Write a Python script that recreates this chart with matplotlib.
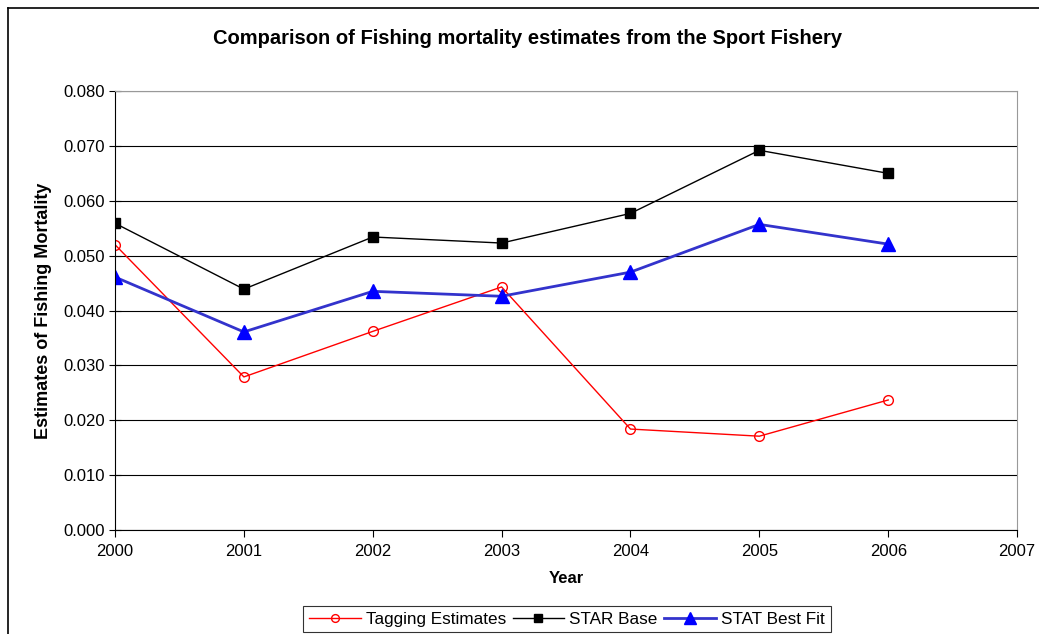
import matplotlib
matplotlib.use("Agg")
import matplotlib.pyplot as plt
from matplotlib.lines import Line2D
from matplotlib.ticker import FormatStrFormatter

plt.rcParams['font.family'] = ['Liberation Sans', 'DejaVu Sans']

# data
years = [2000, 2001, 2002, 2003, 2004, 2005, 2006]
tagging = [0.0520, 0.0279, 0.0362, 0.0443, 0.0184, 0.0171, 0.0237]
star_base = [0.0559, 0.0439, 0.0534, 0.0523, 0.0577, 0.0692, 0.0650]
stat_best = [0.0461, 0.0361, 0.0435, 0.0426, 0.0470, 0.0557, 0.0521]

fig = plt.figure(figsize=(10.39, 6.34), dpi=100)
ax = fig.add_axes([0.1107, 0.164, 0.8682, 0.6924])

ax.plot(years, tagging, color='red', lw=1, marker='o', ms=7,
        mfc='none', mec='red', mew=1, label='Tagging Estimates')
ax.plot(years, star_base, color='black', lw=1, marker='s', ms=7,
        label='STAR Base')
ax.plot(years, stat_best, color='#3333cc', lw=2, marker='^', ms=10,
        mfc='blue', mec='blue', label='STAT Best Fit')

ax.set_xlim(2000, 2007)
ax.set_ylim(0, 0.08)
ax.set_xticks(range(2000, 2008))
ax.set_yticks([i / 100 for i in range(9)])
ax.yaxis.set_major_formatter(FormatStrFormatter('%.3f'))
ax.grid(axis='y', color='black', lw=0.8)
ax.set_axisbelow(True)

for s in ['top', 'right']:
    ax.spines[s].set_color('#999999')
for s in ['left', 'bottom']:
    ax.spines[s].set_color('black')
ax.tick_params(labelsize=12, width=0.8)
ax.tick_params(axis='y', direction='inout', length=9, pad=3)
ax.tick_params(axis='x', direction='out', length=5, pad=5)

ax.set_xlabel('Year', fontsize=12, fontweight='bold', labelpad=9)
ax.set_ylabel('Estimates of Fishing Mortality', fontsize=13, fontweight='bold', labelpad=8)
fig.text(0.508, 0.94, 'Comparison of Fishing mortality estimates from the Sport Fishery',
         ha='center', va='center', fontsize=14.5, fontweight='bold')

leg = ax.legend(loc='upper center', bbox_to_anchor=(0.501, -0.172), ncol=3, frameon=True,
                fancybox=False, fontsize=12.3, handlelength=3, columnspacing=0.4,
                handletextpad=0.3, borderpad=0.35, borderaxespad=0, markerscale=0.8)
leg.get_frame().set_edgecolor('black')
leg.get_frame().set_linewidth(0.8)

# outer chart border (top and left visible)
fig.add_artist(Line2D([8 / 1039, 1], [1 - 8 / 634, 1 - 8 / 634], color='black', lw=1.2))
fig.add_artist(Line2D([8 / 1039, 8 / 1039], [0, 1 - 8 / 634], color='black', lw=1.2))

fig.savefig('out.png', dpi=100)
